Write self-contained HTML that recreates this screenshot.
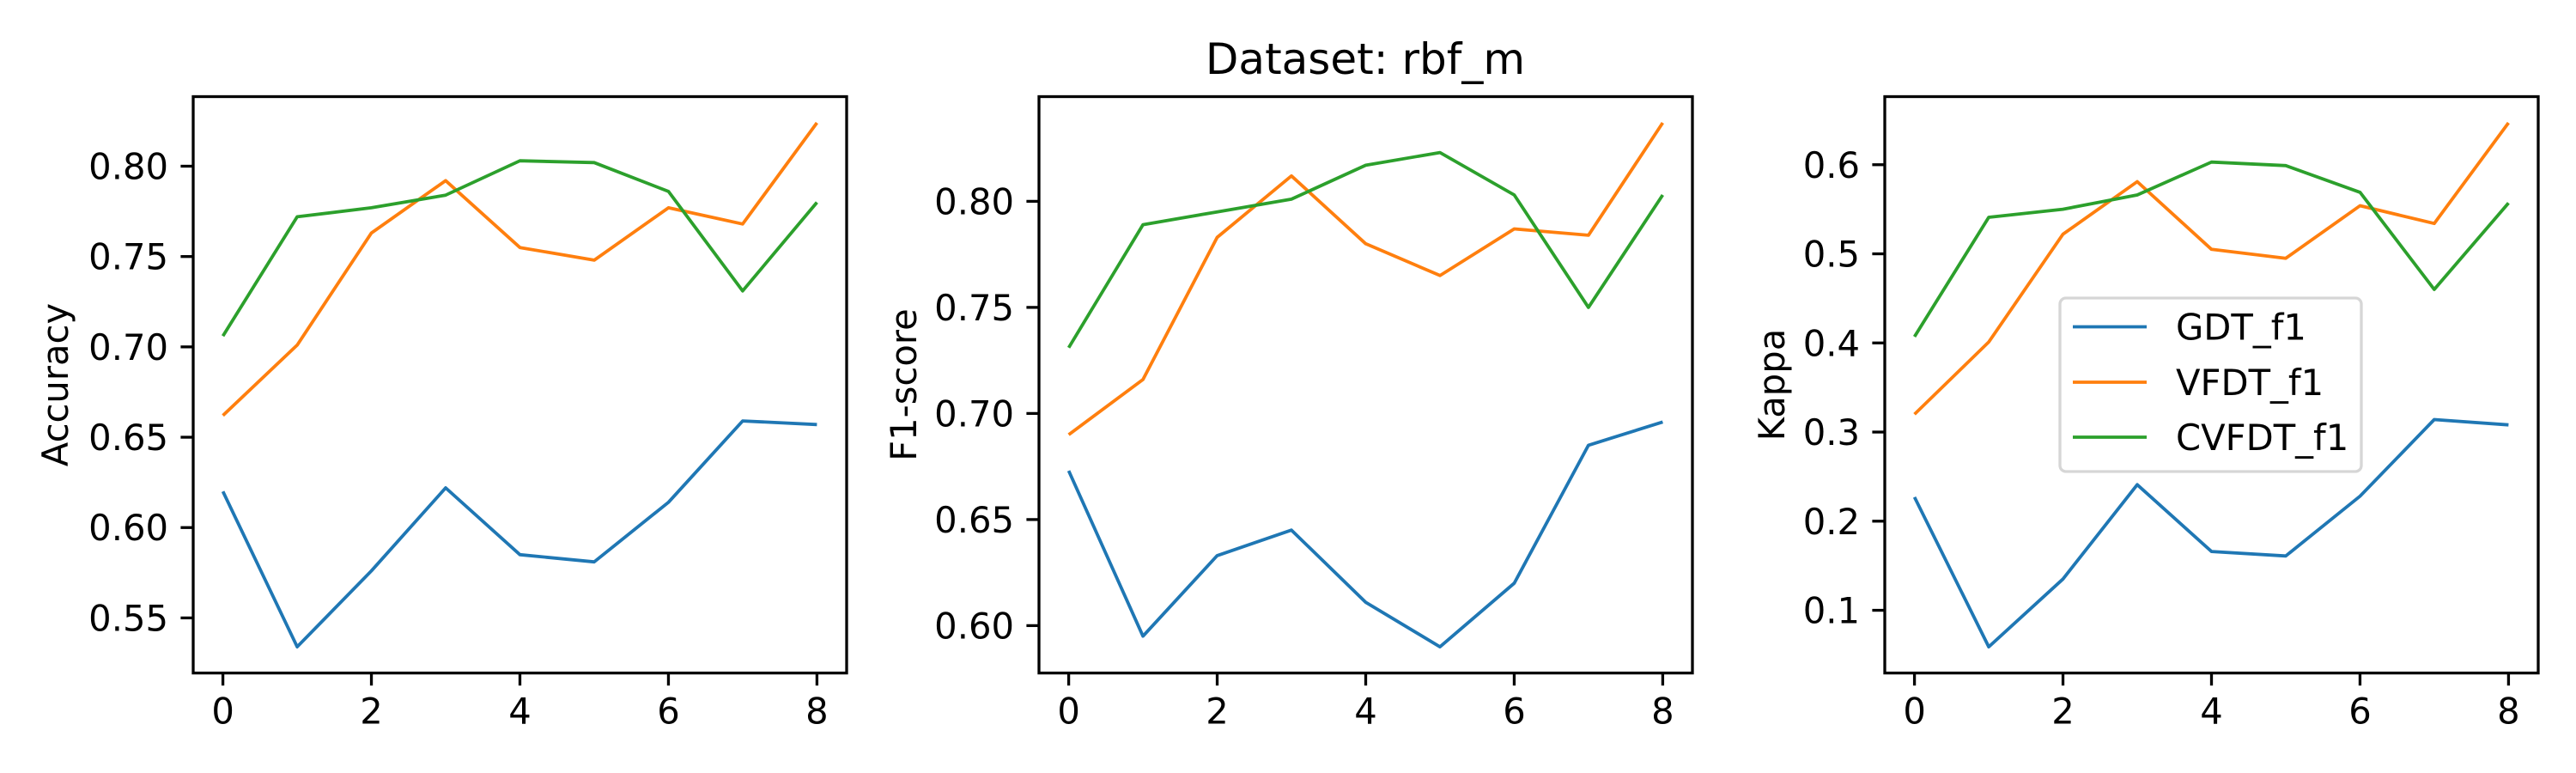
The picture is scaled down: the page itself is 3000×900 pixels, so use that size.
<!DOCTYPE html>
<html><head><meta charset="utf-8"><style>
html,body{margin:0;padding:0;background:#fff;}
svg{display:block;}
text{font-family:"DejaVu Sans","Liberation Sans",sans-serif;fill:#000;}
</style></head><body>
<svg id="chart" width="3000" height="900" viewBox="0 0 3000 900" xmlns="http://www.w3.org/2000/svg">
<text x="1590" y="86" font-size="50" text-anchor="middle">Dataset: rbf_m</text>
</svg>
<script>
const xCats = [0,1,2,3,4,5,6,7,8];
const xTicks = [0,2,4,6,8];
const seriesNames = ["GDT_f1","VFDT_f1","CVFDT_f1"];
const colors = ["#1f77b4","#ff7f0e","#2ca02c"];
const accGDT = [0.620,0.534,0.576,0.622,0.585,0.581,0.614,0.659,0.657];
const accVFDT = [0.662,0.701,0.763,0.792,0.755,0.748,0.777,0.768,0.824];
const accCVFDT = [0.706,0.772,0.777,0.784,0.803,0.802,0.786,0.731,0.780];
const f1GDT = [0.673,0.595,0.633,0.645,0.611,0.590,0.620,0.685,0.696];
const f1VFDT = [0.690,0.716,0.783,0.812,0.780,0.765,0.787,0.784,0.837];
const f1CVFDT = [0.731,0.789,0.795,0.801,0.817,0.823,0.803,0.750,0.803];
const kGDT = [0.227,0.059,0.135,0.241,0.166,0.161,0.228,0.314,0.308];
const kVFDT = [0.320,0.401,0.522,0.581,0.505,0.495,0.554,0.534,0.647];
const kCVFDT = [0.407,0.541,0.550,0.566,0.603,0.599,0.569,0.460,0.557];
const accTicks = [0.55,0.60,0.65,0.70,0.75,0.80];
const f1Ticks = [0.60,0.65,0.70,0.75,0.80];
const kTicks = [0.1,0.2,0.3,0.4,0.5,0.6];

const NS="http://www.w3.org/2000/svg";
const svg=document.getElementById('chart');
function mk(tag,attrs,parent){const e=document.createElementNS(NS,tag);for(const k in attrs)e.setAttribute(k,attrs[k]);(parent||svg).appendChild(e);return e;}

function panel(cfg){
  const g=mk('g',{});
  
  
  const L=cfg.left,R=cfg.left+761,T=112.5,B=783.6;
  const all=[].concat(...cfg.series);
  const mn=Math.min(...all),mx=Math.max(...all),pad=(mx-mn)*0.05;
  const y0=mn-pad,y1=mx+pad;
  const sy=v=>B-(v-y0)/(y1-y0)*(B-T);
  const xpad=8*0.05, sx=v=>L+(v+xpad)/(8+2*xpad)*(R-L);
  cfg.series.forEach((s,i)=>{
    const pts=s.map((v,j)=>sx(xCats[j]).toFixed(1)+','+sy(v).toFixed(1)).join(' ');
    const pl=mk('polyline',{points:pts,fill:'none',stroke:colors[i],'stroke-width':3.8,'stroke-linejoin':'round'},g);
    
    
  });
  const fr=mk('rect',{x:L,y:T,width:R-L,height:B-T,fill:'none',stroke:'#000','stroke-width':3.3},g);
  
  
  xTicks.forEach(t=>{
    const x=sx(t);
    mk('line',{x1:x,y1:B,x2:x,y2:B+14.6,stroke:'#000','stroke-width':3.3},g);
    const tx=mk('text',{x:x,y:B+59,'font-size':41.7,'text-anchor':'middle'},g);
    tx.textContent=t;
    
    
  });
  cfg.ticks.forEach(t=>{
    const y=sy(t);
    mk('line',{x1:L,y1:y,x2:L-14.6,y2:y,stroke:'#000','stroke-width':3.3},g);
    const tx=mk('text',{x:L-29,y:y+15,'font-size':41.7,'text-anchor':'end'},g);
    tx.textContent=t.toFixed(cfg.dec);
    
    
  });
  const yl=mk('text',{x:0,y:0,'font-size':41.7,'text-anchor':'middle',transform:`translate(${cfg.ylx},${(T+B)/2}) rotate(-90)`},g);
  yl.textContent=cfg.ylabel;
  
  
}
panel({name:'accuracy-panel',left:225,series:[accGDT,accVFDT,accCVFDT],ticks:accTicks,dec:2,ylabel:'Accuracy',ylx:79});
panel({name:'f1-panel',left:1210,series:[f1GDT,f1VFDT,f1CVFDT],ticks:f1Ticks,dec:2,ylabel:'F1-score',ylx:1067});
panel({name:'kappa-panel',left:2195,series:[kGDT,kVFDT,kCVFDT],ticks:kTicks,dec:1,ylabel:'Kappa',ylx:2078});

const lg=mk('g',{});


mk('rect',{x:2399,y:347,width:351,height:202,rx:7,fill:'#fff','fill-opacity':0.8,stroke:'#d6d6d6','stroke-width':3.3},lg);
const lys=[380.5,445,509];
seriesNames.forEach((n,i)=>{
  const e=mk('g',{},lg);
  
  
  mk('line',{x1:2414,y1:lys[i],x2:2500,y2:lys[i],stroke:colors[i],'stroke-width':3.8},e);
  const t=mk('text',{x:2534,y:lys[i]+15,'font-size':41.7},e);
  t.textContent=n;
});
</script>
</body></html>
